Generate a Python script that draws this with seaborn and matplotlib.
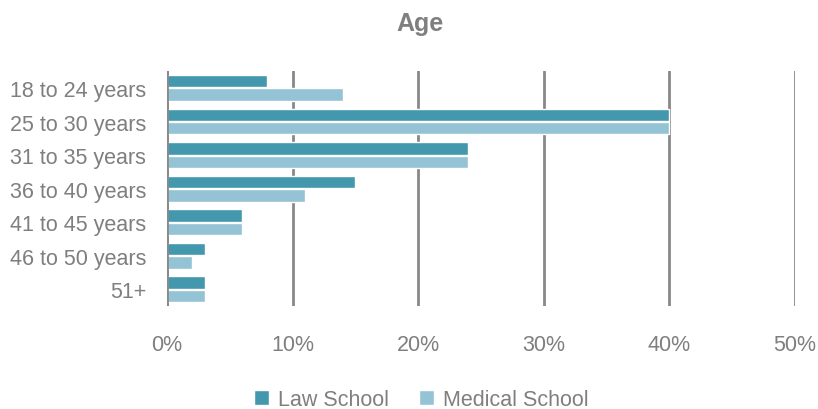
import matplotlib
matplotlib.use("Agg")
import matplotlib.pyplot as plt
import seaborn as sns
import pandas as pd
from matplotlib.ticker import PercentFormatter

categories = ["18 to 24 years", "25 to 30 years", "31 to 35 years", "36 to 40 years",
              "41 to 45 years", "46 to 50 years", "51+"]
law_school = [8, 40, 24, 15, 6, 3, 3]
medical_school = [14, 40, 24, 11, 6, 2, 3]
series_names = ["Law School", "Medical School"]
x_ticks = [0, 10, 20, 30, 40, 50]

df = pd.DataFrame({
    "Age": categories * 2,
    "Share": law_school + medical_school,
    "School": [series_names[0]] * len(categories) + [series_names[1]] * len(categories),
})

sns.set_theme(style="white")
plt.rcParams["font.family"] = ["Liberation Sans Narrow", "Liberation Sans", "DejaVu Sans"]
text_gray = "#7f7f7f"

fig = plt.figure(figsize=(8.18, 4.10), dpi=100)
ax = fig.add_axes([0.204, 0.251, 0.768, 0.573])

palette = {series_names[0]: "#4398ae", series_names[1]: "#93c3d4"}
sns.barplot(data=df, y="Age", x="Share", hue="School", order=categories,
            hue_order=series_names, palette=palette, orient="h",
            width=0.8, gap=0.07, saturation=1, ax=ax, zorder=3)

ax.set_xlim(0, 50)
ax.set_ylim(len(categories) - 0.5, -0.5)
ax.set_xticks(x_ticks)
ax.xaxis.set_major_formatter(PercentFormatter(decimals=0))
ax.grid(axis="x", color="#888888", linewidth=2, zorder=0)
ax.grid(axis="y", visible=False)
# category axis line drawn over the bar bases
ax.axvline(0, color="#888888", linewidth=2, zorder=4)
for s in ax.spines.values():
    s.set_visible(False)
ax.set_xlabel("")
ax.set_ylabel("")
ax.tick_params(axis="both", length=0, labelsize=15.5, colors=text_gray)
ax.tick_params(axis="x", pad=20)
ax.tick_params(axis="y", pad=15)

fig.suptitle("Age", x=0.513, y=0.97, fontsize=18, fontweight="bold", color=text_gray)

leg = ax.legend(loc="upper center", bbox_to_anchor=(0.405, -0.27), ncol=2, frameon=False,
                fontsize=15.5, handlelength=0.7, handleheight=0.7, columnspacing=1.4,
                handletextpad=0.4)
for t in leg.get_texts():
    t.set_color(text_gray)

fig.savefig("out.png", dpi=100)
